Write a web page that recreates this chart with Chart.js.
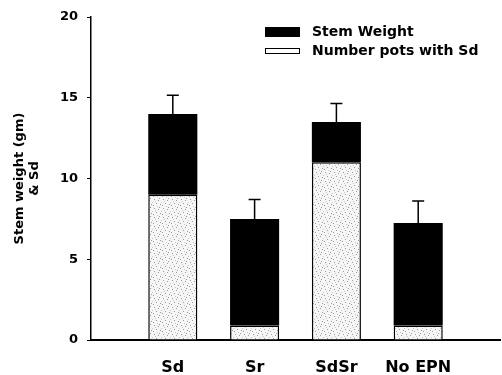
<!DOCTYPE html>
<html>
<head>
<meta charset="utf-8">
<script src="https://cdn.jsdelivr.net/npm/chart.js@4.4.0/dist/chart.umd.min.js"></script>
<style>
  html, body { margin: 0; padding: 0; background: #fff; }
  #wrap { width: 502px; height: 375px; }
</style>
</head>
<body>
<div id="wrap"><canvas id="chart"></canvas></div>
<script>
// data (empty slots at both ends keep the axis wide)
const categories = ["", "Sd", "Sr", "SdSr", "No EPN", ""];
const potsWithSd = [null, 9, 0.9, 11, 0.9, null];
const stemWeight = [null, 5, 6.6, 2.5, 6.35, null];
const stemErr = [null, 1.15, 1.2, 1.15, 1.35, null];

const FONT = "'DejaVu Sans', sans-serif";

// light stipple for the lower segment
const makeStipple = () => {
  const c = document.createElement("canvas");
  c.width = 9;
  c.height = 9;
  const g = c.getContext("2d");
  g.fillStyle = "#f6f6f6";
  g.fillRect(0, 0, 9, 9);
  g.fillStyle = "#9a9a9a";
  [[1, 1], [5, 2], [3, 5], [7, 6], [0, 7], [6, 0]].forEach((p) => g.fillRect(p[0], p[1], 1, 1));
  g.fillStyle = "#c8c8c8";
  [[2, 3], [8, 4], [4, 8]].forEach((p) => g.fillRect(p[0], p[1], 1, 1));
  return g.createPattern(c, "repeat");
};

const errorBars = {
  id: "errorBars",
  afterDatasetsDraw(chart) {
    const ctx = chart.ctx;
    const y = chart.scales.y;
    const meta = chart.getDatasetMeta(1);
    ctx.save();
    ctx.strokeStyle = "#000";
    ctx.lineWidth = 1.5;
    stemErr.forEach((e, i) => {
      if (e == null) return;
      const total = potsWithSd[i] + stemWeight[i];
      const x = meta.data[i].x;
      const y0 = y.getPixelForValue(total);
      const y1 = y.getPixelForValue(total + e);
      ctx.beginPath();
      ctx.moveTo(x, y0);
      ctx.lineTo(x, y1);
      ctx.moveTo(x - 6, y1);
      ctx.lineTo(x + 6, y1);
      ctx.stroke();
    });
    ctx.restore();
  },
};

const boxLegend = {
  id: "boxLegend",
  afterDraw(chart) {
    const ctx = chart.ctx;
    const ds = chart.data.datasets;
    const rows = [
      { label: ds[1].label, fill: "#000", h: 10, cy: 32 },
      { label: ds[0].label, fill: "#fff", h: 6, cy: 51 },
    ];
    ctx.save();
    ctx.font = "bold 14px " + FONT;
    ctx.textBaseline = "middle";
    ctx.textAlign = "left";
    rows.forEach((r) => {
      ctx.fillStyle = r.fill;
      ctx.fillRect(265, r.cy - r.h / 2, 35, r.h);
      ctx.strokeStyle = "#000";
      ctx.lineWidth = 1;
      ctx.strokeRect(265.5, r.cy - r.h / 2 + 0.5, 34, r.h - 1);
      ctx.fillStyle = "#000";
      ctx.fillText(r.label, 312, r.cy);
    });
    ctx.restore();
  },
};

new Chart(document.getElementById("chart"), {
  type: "bar",
  data: {
    labels: categories,
    datasets: [
      {
        label: "Number pots with Sd",
        data: potsWithSd,
        backgroundColor: makeStipple(),
        borderColor: "#000",
        borderWidth: 1.5,
        barPercentage: 0.6,
        categoryPercentage: 1,
      },
      {
        label: "Stem Weight",
        data: stemWeight,
        backgroundColor: "#000",
        borderColor: "#000",
        borderWidth: 0,
        barPercentage: 0.6,
        categoryPercentage: 1,
      },
    ],
  },
  options: {
    responsive: true,
    maintainAspectRatio: false,
    animation: false,
    layout: { padding: { left: 0, top: 17, right: 2, bottom: 0 } },
    plugins: {
      legend: { display: false },
      tooltip: { enabled: false },
    },
    scales: {
      x: {
        stacked: true,
        offset: false,
        grid: { display: false, drawTicks: false },
        border: { display: true, color: "#000", width: 2 },
        ticks: {
          color: "#000",
          font: { family: FONT, size: 16, weight: "bold" },
          padding: 18,
          maxRotation: 0,
          autoSkip: false,
        },
        afterFit: (s) => {
          s.height = 35;
          s.paddingLeft = 0;
          s.paddingRight = 0;
        },
      },
      y: {
        stacked: true,
        min: 0,
        max: 20,
        grid: { display: true, drawOnChartArea: false, drawTicks: true, tickLength: 4, color: "#000" },
        border: { display: true, color: "#000", width: 1.5 },
        ticks: {
          stepSize: 5,
          color: "#000",
          font: { family: FONT, size: 13, weight: "bold" },
          padding: 9,
        },
        title: {
          display: true,
          text: ["Stem weight (gm)", "& Sd"],
          color: "#000",
          font: { family: FONT, size: 13, weight: "bold", lineHeight: 1.15 },
          padding: { top: 12, bottom: 0 },
        },
        afterFit: (s) => { s.width = 91; },
      },
    },
  },
  plugins: [errorBars, boxLegend],
});
</script>
</body>
</html>
